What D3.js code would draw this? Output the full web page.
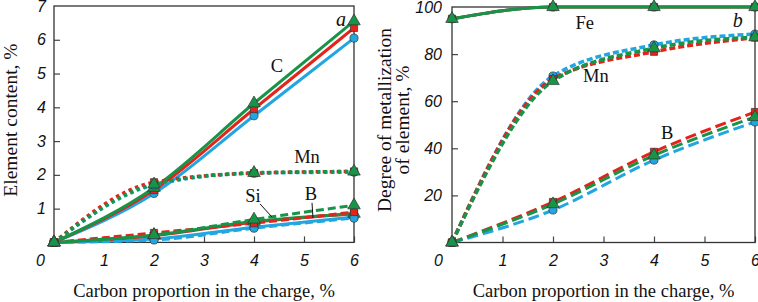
<!DOCTYPE html>
<html>
<head>
<meta charset="utf-8">
<script src="https://cdn.jsdelivr.net/npm/d3@7"></script>
<style>
  body { margin: 0; background: #fff; }
  svg { display: block; }
  .tick text { font-family: "Liberation Sans", Arial, sans-serif; font-style: italic; font-size: 16px; fill: #111; }
  .tick line { stroke: #444; stroke-width: 1.2; }
  .lbl { font-family: "Liberation Serif", "Times New Roman", serif; font-size: 18.5px; fill: #111; }
  .ytitle { font-size: 19.5px; }
</style>
</head>
<body>
<svg id="chart" width="758" height="302"></svg>
<script>
// x values (carbon in the charge, %)
const carbon = [0, 2, 4, 6];
const xTicks = [0, 1, 2, 3, 4, 5, 6];
const contentTicks = [0, 1, 2, 3, 4, 5, 6, 7];
const metalTicks = [0, 20, 40, 60, 80, 100];

// rows: blue (circle), red (square), green (triangle)
const contentC  = [[0, 1.45, 3.75, 6.05], [0, 1.55, 3.95, 6.35], [0, 1.62, 4.12, 6.55]];
const contentMn = [[0, 1.70, 2.05, 2.08], [0, 1.78, 2.05, 2.10], [0, 1.72, 2.06, 2.10]];
const contentSi = [[0, 0.10, 0.45, 0.75], [0, 0.20, 0.60, 0.85], [0, 0.22, 0.62, 0.85]];
const contentB  = [[0, 0.07, 0.42, 0.72], [0, 0.28, 0.57, 0.90], [0, 0.22, 0.68, 1.10]];

const metalFe = [[95, 100, 100, 100], [95, 100, 100, 100], [95, 100, 100, 100]];
const metalMn = [[0, 70.7, 83.9, 88.5], [0, 69.4, 81.0, 87.0], [0, 68.6, 82.5, 87.2]];
const metalB  = [[0, 13.8, 35.0, 51.2], [0, 17.2, 38.5, 55.4], [0, 16.3, 37.0, 53.3]];

const colors = ['#22a6e2', '#e3231c', '#169447'];
const shapes = [d3.symbolCircle, d3.symbolSquare, d3.symbolTriangle];
const sizes = [52, 52, 68];

const svg = d3.select('#chart');

function drawPanel(cfg) {
    const g = svg.append('g');

    const xscale = d3.scaleLinear().domain([0, 6]).range([cfg.left, cfg.right]);
    const yscale = d3.scaleLinear().domain([0, cfg.ymax]).range([cfg.bottom, cfg.top]);

    // axes (ticks pointing inward)
    const xaxis = d3.axisBottom(xscale)
        .tickValues(xTicks)
        .tickSizeInner(-6)
        .tickSizeOuter(0)
        .tickPadding(12)
        .tickFormat(d3.format('d'));
    const yaxis = d3.axisLeft(yscale)
        .tickValues(cfg.yticks)
        .tickSizeInner(-6)
        .tickSizeOuter(0)
        .tickPadding(cfg.ypad)
        .tickFormat(d3.format('d'));

    const xg = g.append('g')
        .attr('transform', `translate(0, ${cfg.bottom})`)
        .call(xaxis);
    xg.select('.domain').remove();
    // corner "0" sits left of the axis
    xg.selectAll('.tick').filter(d => d === 0).select('text').attr('dx', -14);
    xg.selectAll('.tick').filter(d => d === 0).select('line').remove();

    const yg = g.append('g')
        .attr('transform', `translate(${cfg.left}, 0)`)
        .call(yaxis);
    yg.select('.domain').remove();
    yg.selectAll('.tick').filter(d => d === 0 || d === cfg.ymax).select('line').remove();
    yg.selectAll('.tick').filter(d => d === 0).remove();

    // frame
    g.append('rect')
        .attr('x', cfg.left)
        .attr('y', cfg.top)
        .attr('width', cfg.right - cfg.left)
        .attr('height', cfg.bottom - cfg.top)
        .attr('fill', 'none')
        .attr('stroke', '#333')
        .attr('stroke-width', 1.3);

    const line = d3.line()
        .x((d, j) => xscale(carbon[j]))
        .y(d => yscale(d))
        .curve(d3.curveMonotoneX);

    cfg.series.forEach(s => {
        s.rows.forEach((row, i) => {
            g.append('path')
                .datum(row)
                .attr('d', line)
                .attr('fill', 'none')
                .attr('stroke', colors[i])
                .attr('stroke-width', s.width)
                .attr('stroke-dasharray', s.dash)
                .attr('stroke-linejoin', 'round');
        });
    });

    cfg.series.forEach(s => {
        s.rows.forEach((row, i) => {
            g.selectAll(null)
                .data(row)
                .join('path')
                .attr('transform', (d, j) => `translate(${xscale(carbon[j])}, ${yscale(d)})`)
                .attr('d', d3.symbol().type(shapes[i]).size(sizes[i]))
                .attr('fill', colors[i])
                .attr('stroke', '#333')
                .attr('stroke-width', 0.7);
        });
    });

    // annotations
    cfg.labels.forEach(l => {
        g.append('text')
            .attr('class', 'lbl')
            .attr('x', xscale(l.x))
            .attr('y', yscale(l.y))
            .attr('dy', '0.35em')
            .attr('text-anchor', 'middle')
            .style('font-style', l.italic ? 'italic' : 'normal')
            .style('font-size', l.italic ? '20px' : null)
            .text(l.text);
    });
    (cfg.leaders || []).forEach(l => {
        g.append('line')
            .attr('x1', xscale(l[0])).attr('y1', yscale(l[1]))
            .attr('x2', xscale(l[2])).attr('y2', yscale(l[3]))
            .attr('stroke', '#111')
            .attr('stroke-width', 1);
    });

    // x title
    g.append('text')
        .attr('class', 'lbl')
        .attr('x', (cfg.left + cfg.right) / 2)
        .attr('y', 297)
        .attr('text-anchor', 'middle')
        .text('Carbon proportion in the charge, %');

    // y title
    const yt = g.append('text')
        .attr('class', 'lbl ytitle')
        .attr('text-anchor', 'middle')
        .attr('transform', `rotate(-90)`);
    cfg.ytitle.forEach((t, k) => {
        yt.append('tspan')
            .attr('x', -cfg.ytitleY)
            .attr('y', cfg.ytitleX[k])
            .text(t);
    });
}

drawPanel({
    left: 54, right: 354, top: 6, bottom: 242.4,
    ymax: 7, yticks: contentTicks, ypad: 8,
    series: [
        { rows: contentC, dash: null, width: 3 },
        { rows: contentMn, dash: '3.5,3.5', width: 3.5 },
        { rows: contentSi, dash: null, width: 3 },
        { rows: contentB, dash: '8,4', width: 3 }
    ],
    labels: [
        { text: 'a', x: 5.74, y: 6.62, italic: true },
        { text: 'C', x: 4.46, y: 5.25 },
        { text: 'Mn', x: 5.06, y: 2.53 },
        { text: 'Si', x: 3.98, y: 1.40 },
        { text: 'B', x: 5.14, y: 1.46 }
    ],
    leaders: [[4.12, 1.14, 4.36, 0.75], [5.16, 1.17, 5.18, 0.72]],
    ytitle: ['Element content, %'],
    ytitleX: [17],
    ytitleY: 120
});

drawPanel({
    left: 452, right: 755, top: 7, bottom: 242.5,
    ymax: 100, yticks: metalTicks, ypad: 10,
    series: [
        { rows: metalFe, dash: null, width: 3 },
        { rows: metalMn, dash: '6,3', width: 3.5 },
        { rows: metalB, dash: '11,5', width: 3 }
    ],
    labels: [
        { text: 'b', x: 5.66, y: 94.5, italic: true },
        { text: 'Fe', x: 2.63, y: 93.6 },
        { text: 'Mn', x: 2.85, y: 70.7 },
        { text: 'B', x: 4.26, y: 46.9 }
    ],
    ytitle: ['Degree of metallization', 'of element, %'],
    ytitleX: [391, 409],
    ytitleY: 120
});
</script>
</body>
</html>
